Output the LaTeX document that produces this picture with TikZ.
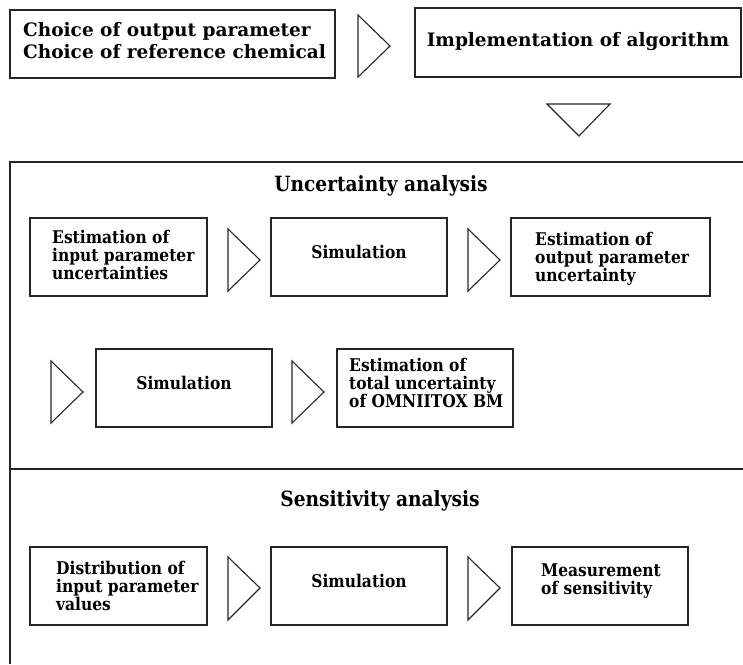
\documentclass[tikz,border=0pt]{standalone}
\usepackage{fontspec}
\setmainfont{DejaVu Serif}
\newfontfamily\condfont{DejaVu Serif}[FakeStretch=0.885]
\begin{document}
\begin{tikzpicture}[x=1pt,y=-1pt,
  boxline/.style={draw=black!85,line width=1.1pt},
  topbox/.style={boxline,rectangle,inner sep=0pt},
  topt/.style={font=\fontsize{18.5}{22}\selectfont\bfseries,align=left,inner sep=0pt},
  head/.style={font=\condfont\fontsize{21}{22}\selectfont\bfseries,inner sep=0pt},
  bt/.style={font=\condfont\fontsize{17.5}{18}\selectfont\bfseries,align=left,inner sep=0pt},
  arr/.style={boxline,line join=miter}]
\useasboundingbox (0,0) rectangle (743,664);
% top row
\node[topbox,minimum width=325pt,minimum height=68pt] (b1) at (172.5,44) {};
\node[topt,anchor=west] (t1) at (23,41) {Choice of output parameter\\Choice of reference chemical};
\node[topbox,minimum width=326pt,minimum height=69pt] (b2) at (578,42.5) {};
\node[topt] (t2) at (578,42) {Implementation of algorithm};
\coordinate (a1a) at (358,15); \coordinate (a1b) at (390,46); \coordinate (a1c) at (358,77);
\draw[arr] (a1a) -- (a1b) -- (a1c) -- cycle;
\coordinate (a2a) at (547,104); \coordinate (a2b) at (579,136); \coordinate (a2c) at (610,104);
\draw[arr] (a2a) -- (a2b) -- (a2c) -- cycle;
% frame
\coordinate (f1) at (743,162); \coordinate (f2) at (10,162); \coordinate (f3) at (10,664);
\draw[boxline] (f1) -- (f2) -- (f3);
\coordinate (d1) at (10,469); \coordinate (d2) at (743,469);
\draw[boxline] (d1) -- (d2);
% uncertainty analysis
\node[head] (h1) at (381,186) {Uncertainty analysis};
\node[topbox,minimum width=177pt,minimum height=78pt] (u1) at (118.5,257) {};
\node[bt,anchor=west] (u1t) at (52,255) {Estimation of\\input parameter\\uncertainties};
\node[topbox,minimum width=176pt,minimum height=78pt] (u2) at (359,257) {};
\node[bt] (u2t) at (359,252) {Simulation};
\node[topbox,minimum width=199pt,minimum height=78pt] (u3) at (610.5,257) {};
\node[bt,anchor=west] (u3t) at (535,259) {Estimation of\\output parameter\\uncertainty};
\draw[arr] (228,229) -- (260,260) -- (228,291) -- cycle;
\draw[arr] (468,229) -- (500,260) -- (468,291) -- cycle;
% row 2
\draw[arr] (51,361) -- (83,392) -- (51,423) -- cycle;
\node[topbox,minimum width=176pt,minimum height=78pt] (v1) at (184,388) {};
\node[bt] (v1t) at (184,383) {Simulation};
\draw[arr] (292,361) -- (324,392) -- (292,423) -- cycle;
\node[topbox,minimum width=176pt,minimum height=78pt] (v2) at (425,388) {};
\node[bt,anchor=west] (v2t) at (349,383) {Estimation of\\total uncertainty\\of OMNIITOX BM};
% sensitivity analysis
\node[head] (h2) at (380,501) {Sensitivity analysis};
\node[topbox,minimum width=177pt,minimum height=78pt] (s1) at (118.5,586) {};
\node[bt,anchor=west] (s1t) at (56,586) {Distribution of\\input parameter\\values};
\draw[arr] (228,557) -- (260,588) -- (228,620) -- cycle;
\node[topbox,minimum width=176pt,minimum height=78pt] (s2) at (359,586) {};
\node[bt] (s2t) at (359,581) {Simulation};
\draw[arr] (468,557) -- (500,588) -- (468,620) -- cycle;
\node[topbox,minimum width=176pt,minimum height=78pt] (s3) at (600,586) {};
\node[bt,anchor=west] (s3t) at (541,581) {Measurement\\of sensitivity};
\end{tikzpicture}
\end{document}
